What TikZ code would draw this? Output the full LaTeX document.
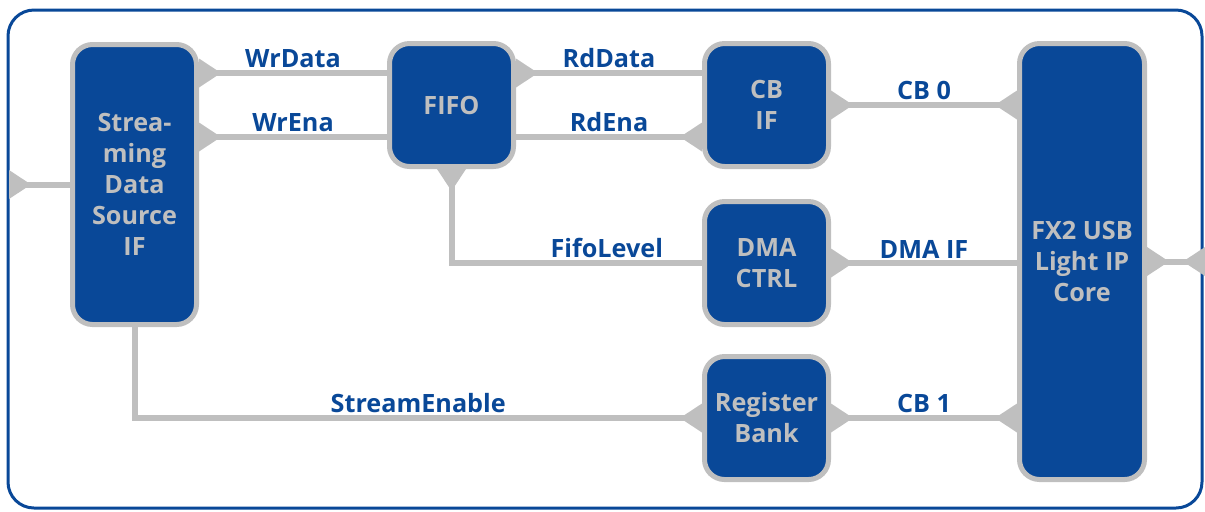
\documentclass[tikz,border=0pt]{standalone}
\usepackage{fontspec}
\setmainfont{Open Sans}
\usetikzlibrary{arrows.meta}
\definecolor{ipblue}{RGB}{9,72,152}
\definecolor{wiregray}{RGB}{191,191,191}
\begin{document}
\begin{tikzpicture}[x=0.5pt,y=-0.5pt,
    block/.style={draw=wiregray, line width=2.5pt, fill=ipblue, rounded corners=10pt,
        text=wiregray, font=\bfseries\fontsize{12.6}{15.5}\selectfont, align=center,
        minimum width=62pt, minimum height=61.5pt, inner sep=0pt},
    wire/.style={draw=wiregray, line width=3pt, preaction={draw=wiregray, line width=3pt, arrows=-}},
    lbl/.style={text=ipblue, font=\bfseries\fontsize{12.6}{15.5}\selectfont, inner sep=1pt},
    tri/.tip={Triangle[length=11pt,width=14.5pt,reversed,line width=0pt]}]
    \useasboundingbox (0,0) rectangle (1205,511);
    % outer frame
    \draw[ipblue, line width=1.5pt, rounded corners=13pt] (8,10) rectangle (1202,508);
    % blocks
    \node[block, minimum height=140pt] (src) at (134.5,184.5) {Strea-\\ming\\Data\\Source\\IF};
    \node[block] (fifo) at (451.5,105) {FIFO};
    \node[block] (cbif) at (766.5,105) {CB\\IF};
    \node[block] (dma) at (766.5,263) {DMA\\CTRL};
    \node[block] (reg) at (766.5,418) {Register\\Bank};
    \node[block, minimum width=62.5pt, minimum height=218pt] (fx2) at (1082,261.5) {FX2 USB\\Light IP\\Core};
    % taps on the fifo sides
    \coordinate (wd) at ([yshift=16pt]fifo.west);
    \coordinate (we) at ([yshift=-16pt]fifo.west);
    \coordinate (rd) at ([yshift=16pt]fifo.east);
    \coordinate (re) at ([yshift=-16pt]fifo.east);
    \coordinate (inp) at (9,184.5);
    \coordinate (outp) at (1205,261.5);
    % wires
    \draw[wire, tri-] (inp) -- (src.west);
    \draw[wire, tri-] (src.east |- wd) -- node[lbl, above] {WrData} (wd);
    \draw[wire, tri-] (src.east |- we) -- node[lbl, above] {WrEna} (we);
    \draw[wire, tri-] (rd) -- node[lbl, above] {RdData} (rd -| cbif.west);
    \draw[wire, -tri] (re) -- node[lbl, above] {RdEna} (re -| cbif.west);
    \draw[wire, tri-tri] (cbif.east) -- node[lbl, above] {CB 0} (cbif.east -| fx2.west);
    \draw[wire, tri-] (fifo.south) |- node[lbl, above, pos=0.81] {FifoLevel} (dma.west);
    \draw[wire, tri-] (dma.east) -- node[lbl, above] {DMA IF} (dma.east -| fx2.west);
    \draw[wire, -tri] (src.south) |- node[lbl, above, pos=0.75] {StreamEnable} (reg.west);
    \draw[wire, tri-tri] (reg.east) -- node[lbl, above] {CB 1} (reg.east -| fx2.west);
    \draw[wire, tri-tri] (fx2.east) -- (outp);
\end{tikzpicture}
\end{document}
